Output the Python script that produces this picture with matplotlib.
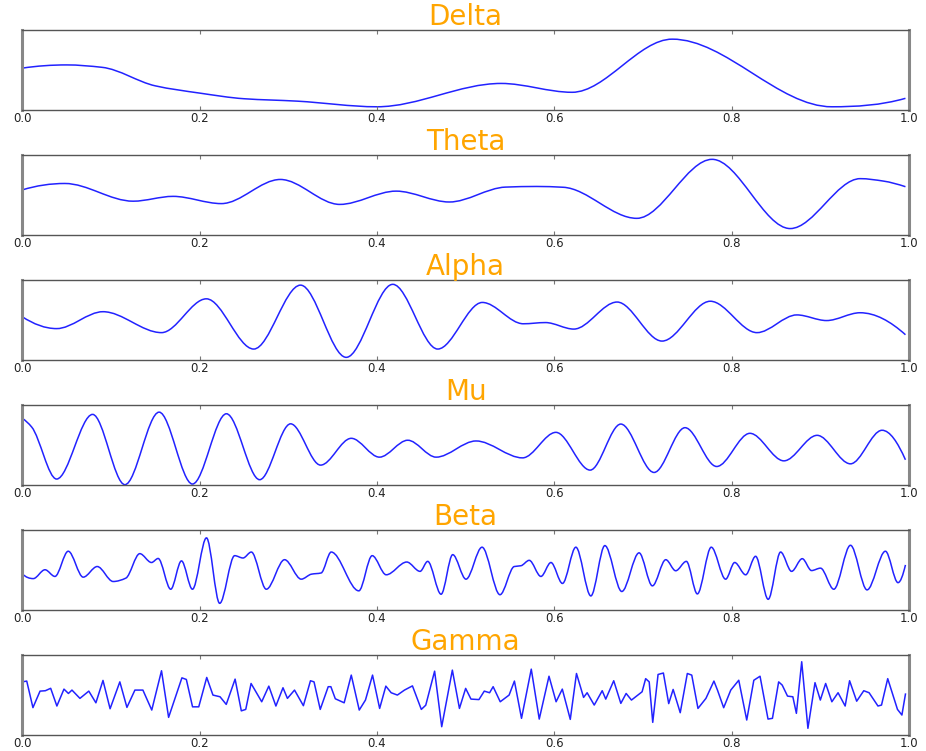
import numpy as np
import matplotlib
matplotlib.use("Agg")
import matplotlib.pyplot as plt
from matplotlib.path import Path
from matplotlib.patches import PathPatch

titles = ["Delta", "Theta", "Alpha", "Mu", "Beta", "Gamma"]

delta_x = [0, 0.05, 0.09, 0.15, 0.2, 0.25, 0.31, 0.40, 0.54, 0.62, 0.733, 0.913, 0.996]
delta_y = [52, 56, 53, 30, 21, 14, 11, 4, 33, 22, 88, 4, 14.5]

theta_x = [0, 0.048, 0.125, 0.17, 0.2245, 0.291, 0.358, 0.4216, 0.4816, 0.545, 0.58, 0.61,
           0.693, 0.778, 0.866, 0.945, 0.971, 0.996]
theta_y = [56, 64, 42, 48, 39, 69, 38, 54.5, 41, 59.5, 60.3, 59.3, 20.7, 94, 8, 70, 67, 60]

alpha_x = [0, 0.0387, 0.091, 0.157, 0.2076, 0.261, 0.3138, 0.3653, 0.4178, 0.4685, 0.5188,
           0.565, 0.59, 0.622, 0.6708, 0.7215, 0.7759, 0.8285, 0.8735, 0.907, 0.9448, 0.996]
alpha_y = [53.7, 39, 60, 34, 76, 13.6, 93, 3.3, 94, 13.6, 71.5, 45, 46.5, 38.4, 72, 23.5,
           73, 34, 56, 49, 58.7, 31.4]

mu_x = [0, 0.0106, 0.0387, 0.0793, 0.1157, 0.1543, 0.1919, 0.2302, 0.2677, 0.3026, 0.3364,
        0.371, 0.4028, 0.4347, 0.4667, 0.5117, 0.5642, 0.6018, 0.6404, 0.675, 0.7125, 0.7474,
        0.7831, 0.8206, 0.8589, 0.8964, 0.934, 0.9696, 0.996]
mu_y = [82.7, 72, 7.4, 87.7, 0.4, 90.5, 1.2, 88.5, 6.6, 76, 24.7, 58, 34.6, 55.6, 34.6, 54.7,
        33.7, 65.4, 18.5, 75.7, 15.6, 71.2, 23, 64.2, 30, 61.7, 26.3, 68, 31.3]

beta_x = [0, 0.0124, 0.0256, 0.0368, 0.0518, 0.0687, 0.0845, 0.1025, 0.1168, 0.1325, 0.1457,
          0.1532, 0.1674, 0.1795, 0.1919, 0.2077, 0.2226, 0.2395, 0.2489, 0.2583, 0.2752,
          0.2958, 0.3146, 0.326, 0.337, 0.3484, 0.3795, 0.3946, 0.4104, 0.4336, 0.4486,
          0.4572, 0.4723, 0.4854, 0.5004, 0.5185, 0.5387, 0.5548, 0.5624, 0.5717, 0.5849,
          0.5962, 0.6092, 0.6243, 0.6412, 0.657, 0.6761, 0.6956, 0.7106, 0.7257, 0.7369,
          0.7489, 0.7613, 0.777, 0.7932, 0.8034, 0.8158, 0.827, 0.8412, 0.8552, 0.8676,
          0.8796, 0.8901, 0.9002, 0.9152, 0.934, 0.9527, 0.9734, 0.9876, 0.996]
beta_y = [45, 39, 50, 41.7, 73, 40.8, 54, 35.4, 39.6, 70, 59, 64, 25.8, 61, 25.8, 89.6, 8.3,
          67.5, 64.6, 72, 25.8, 62.5, 38.3, 44.5, 46, 72, 23.8, 67.5, 43.75, 59.6, 48, 60.4,
          19.6, 68.75, 38.3, 78, 19, 54, 55, 61.7, 41.7, 59, 33, 78, 17.5, 80, 23, 71, 30,
          62.5, 48.75, 60.4, 20, 78, 38.3, 59, 43.75, 66.7, 13.3, 72, 48, 63.75, 49, 52,
          25.8, 80.4, 25, 73, 34, 56]

gamma_x = [0.000, 0.005, 0.012, 0.020, 0.026, 0.032, 0.039, 0.047, 0.052, 0.056, 0.065, 0.075,
           0.083, 0.091, 0.099, 0.110, 0.118, 0.127, 0.136, 0.146, 0.157, 0.165, 0.180, 0.185,
           0.192, 0.199, 0.208, 0.215, 0.223, 0.230, 0.240, 0.247, 0.252, 0.258, 0.270, 0.278,
           0.286, 0.294, 0.299, 0.307, 0.317, 0.325, 0.329, 0.336, 0.345, 0.348, 0.353, 0.363,
           0.371, 0.380, 0.387, 0.395, 0.403, 0.410, 0.416, 0.423, 0.431, 0.440, 0.450, 0.455,
           0.465, 0.473, 0.485, 0.493,
           0.500, 0.506, 0.515, 0.521, 0.527, 0.531, 0.539, 0.549, 0.555, 0.563, 0.574, 0.583,
           0.594, 0.602, 0.609, 0.618, 0.625, 0.633, 0.637, 0.645, 0.654, 0.658, 0.667, 0.675,
           0.681, 0.687, 0.699, 0.703, 0.707, 0.711, 0.717, 0.723, 0.729, 0.734, 0.742, 0.750,
           0.755, 0.762, 0.771, 0.780, 0.784, 0.791, 0.799, 0.808, 0.817, 0.825, 0.832, 0.841,
           0.846, 0.853, 0.857, 0.863, 0.869, 0.873, 0.879, 0.886, 0.894, 0.900, 0.906, 0.913,
           0.920, 0.928, 0.933, 0.941, 0.949, 0.955, 0.965, 0.969, 0.976, 0.987, 0.992, 0.996]
gamma_y = [66, 67, 34, 54.5, 55, 58, 36, 57, 51.6, 55.8, 45.5, 54.5, 40, 67.8, 32.6, 66, 34.3,
           55.8, 55.8, 31, 79.8, 21.9, 71, 69, 35, 35, 71.5, 49.6, 47.5, 38, 69.4, 30, 31.8,
           64, 41.3, 60.7, 36, 58.7, 45.5, 55.8, 36.4, 67.4, 66, 31.8, 60, 60, 45, 40, 74.4,
           31, 43.4, 74.4, 33, 60.7, 52.5, 49.6, 55.8, 61, 31.8, 37, 79.3, 10.3, 80.6, 33,
           57.9, 44.6, 44, 54.5, 52.5, 60, 41.3, 49.6, 67, 20.7, 81.8, 19.8, 73, 41.3, 57,
           19.4, 76.4, 46.7, 52.5, 37.2, 55, 44.6, 67.4, 39.3, 51.6, 43.4, 53.7, 70, 66, 15.7,
           75.2, 77, 39, 56.6, 27.7, 76.4, 74.4, 33, 45.5, 67, 55.8, 33.9, 55.8, 68, 18.6, 68,
           73, 19.8, 20.7, 66, 62, 48.3, 47.5, 26.9, 91, 8.3, 65, 43.4, 64, 41.3, 52.5, 36,
           67.4, 42, 55, 52.5, 36, 37.2, 70, 31.8, 24.8, 50.8]

series = [(delta_x, delta_y, True), (theta_x, theta_y, True), (alpha_x, alpha_y, True),
          (mu_x, mu_y, True), (beta_x, beta_y, True), (gamma_x, gamma_y, False)]

xticks = [0.0, 0.2, 0.4, 0.6, 0.8, 1.0]
xticklabels = ["0.0", "0.2", "0.4", "0.6", "0.8", "1.0"]


def smooth_path(x, y):
    """Monotone cubic (PCHIP-style) curve through the read points, as Bezier segments."""
    x = np.asarray(x, float)
    y = np.asarray(y, float)
    h = np.diff(x)
    d = np.diff(y) / h
    n = len(x)
    m = np.zeros(n)
    for i in range(1, n - 1):
        if d[i - 1] * d[i] > 0:
            w1 = 2 * h[i] + h[i - 1]
            w2 = h[i] + 2 * h[i - 1]
            m[i] = (w1 + w2) / (w1 / d[i - 1] + w2 / d[i])

    def end_slope(h0, h1, d0, d1):
        s = ((2 * h0 + h1) * d0 - h0 * d1) / (h0 + h1)
        if np.sign(s) != np.sign(d0):
            s = 0.0
        elif np.sign(d0) != np.sign(d1) and abs(s) > abs(3 * d0):
            s = 3 * d0
        return s

    m[0] = end_slope(h[0], h[1], d[0], d[1])
    m[-1] = end_slope(h[-1], h[-2], d[-1], d[-2])
    verts = [(x[0], y[0])]
    codes = [Path.MOVETO]
    for i in range(n - 1):
        hh = h[i]
        verts += [(x[i] + hh / 3, y[i] + m[i] * hh / 3),
                  (x[i + 1] - hh / 3, y[i + 1] - m[i + 1] * hh / 3),
                  (x[i + 1], y[i + 1])]
        codes += [Path.CURVE4] * 3
    return Path(verts, codes)


fig = plt.figure(figsize=(9.26, 7.51), dpi=100)
left = 22.3 / 926
width = (909 - 22.3) / 926
bottoms_px = [110, 235, 360, 485, 610, 735]
height = 80.5 / 751

for k, (title, (sx, sy, smooth)) in enumerate(zip(titles, series)):
    ax = fig.add_axes([left, 1 - bottoms_px[k] / 751, width, height])
    if smooth:
        ax.add_patch(PathPatch(smooth_path(sx, sy), fill=False, edgecolor="#2222ff", lw=1.1))
    else:
        ax.plot(sx, sy, color="#2222ff", lw=1.1)
    ax.set_xlim(0, 1)
    ax.set_ylim(0, 100)
    ax.set_yticks([])
    ax.set_xticks(xticks)
    ax.set_xticklabels(xticklabels)
    ax.tick_params(axis="x", direction="in", top=True, bottom=True, length=3,
                   width=0.8, color="#777777", labelsize=8.5, pad=1.5, labelcolor="#222222")
    for side in ["top", "bottom"]:
        ax.spines[side].set_color("#555555")
        ax.spines[side].set_linewidth(1.0)
    for side in ["left", "right"]:
        ax.spines[side].set_color("#888888")
        ax.spines[side].set_linewidth(2.2)
    ax.set_title(title, color="#FFA500", fontsize=20, pad=3)

fig.savefig("out.png", dpi=100)
